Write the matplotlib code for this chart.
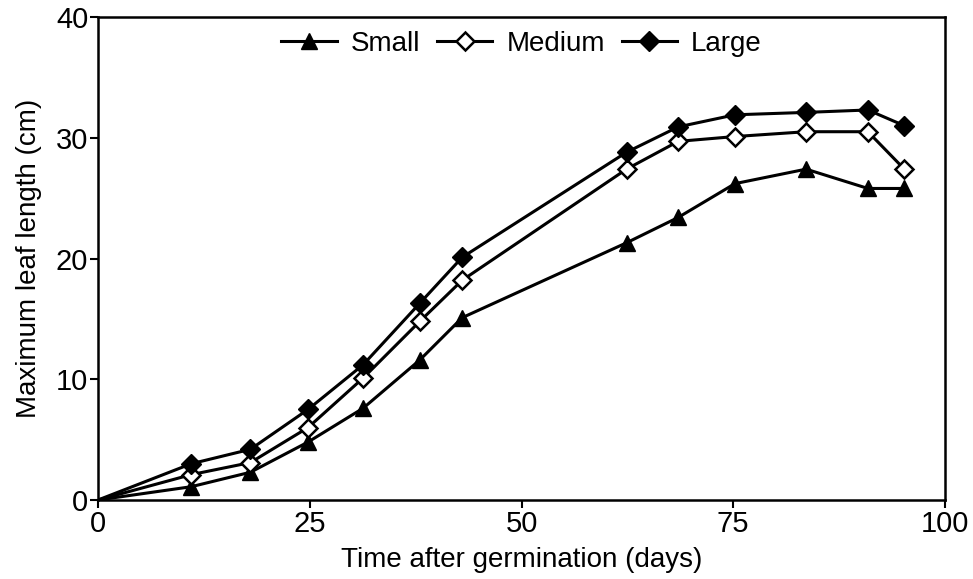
import matplotlib
matplotlib.use("Agg")
import matplotlib.pyplot as plt

days = [0, 11, 18, 24.8, 31.3, 38, 43, 62.4, 68.5, 75.2, 83.6, 90.9, 95.2]
small = [0, 1.1, 2.3, 4.8, 7.6, 11.6, 15.1, 21.3, 23.4, 26.2, 27.4, 25.8, 25.8]
medium = [0, 2.1, 3.1, 6.0, 10.1, 14.8, 18.2, 27.4, 29.7, 30.1, 30.5, 30.5, 27.4]
large = [0, 3.0, 4.2, 7.5, 11.2, 16.3, 20.1, 28.8, 30.9, 31.9, 32.1, 32.3, 31.0]
xticks = [0, 25, 50, 75, 100]
yticks = [0, 10, 20, 30, 40]

plt.rcParams['font.family'] = ['Liberation Sans', 'DejaVu Sans']

fig = plt.figure(figsize=(9.73, 5.79), dpi=100)
ax = fig.add_axes([98/973, 1-500/579, (945-98)/973, (500-17)/579])

lw = 2.2
ax.plot(days, small, color='black', lw=lw, marker='^', ms=12, markevery=list(range(1, len(days))),
        label='Small')
ax.plot(days, medium, color='black', lw=lw, marker='D', ms=9, mfc='white', mew=1.8,
        markevery=list(range(1, len(days))), label='Medium')
ax.plot(days, large, color='black', lw=lw, marker='D', ms=10, markevery=list(range(1, len(days))),
        label='Large')

ax.set_xlim(0, 100)
ax.set_ylim(0, 40)
ax.set_xticks(xticks)
ax.set_yticks(yticks)
ax.tick_params(direction='out', length=6, width=1.5, labelsize=21, pad=1)
for s in ax.spines.values():
    s.set_linewidth(1.8)

ax.set_xlabel('Time after germination (days)', fontsize=20, labelpad=7)
ax.set_ylabel('Maximum leaf length (cm)', fontsize=20, labelpad=10)

leg = ax.legend(loc='upper center', ncol=3, frameon=False, fontsize=20,
                bbox_to_anchor=(0.5, 1.0), handlelength=2.0, columnspacing=0.6,
                handletextpad=0.5, borderaxespad=0.1)

fig.savefig('out.png', dpi=100, facecolor='white')
